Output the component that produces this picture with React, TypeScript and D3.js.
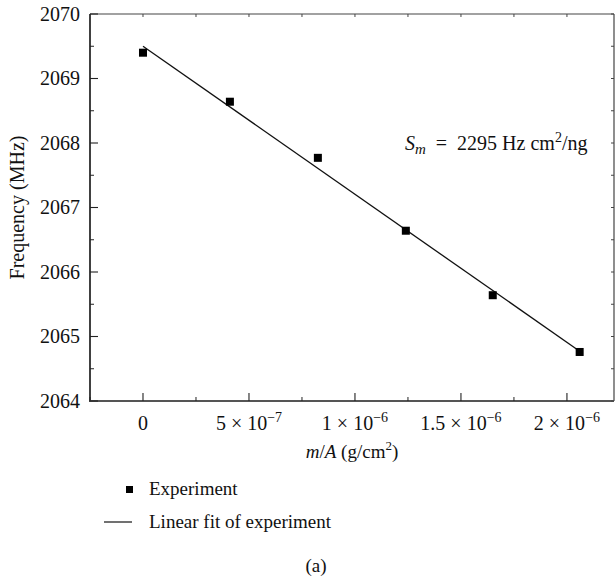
import React from "react";
import * as d3 from "d3";

// Mass loading per area (g/cm^2) and measured resonance frequency (MHz)
const massPerArea = [0, 4.1e-7, 8.25e-7, 1.24e-6, 1.65e-6, 2.06e-6];
const frequencyMHz = [2069.4, 2068.64, 2067.77, 2066.64, 2065.64, 2064.76];

// Linear fit: f = intercept - Sm * (m/A); Sm in Hz cm^2/ng
const fitInterceptMHz = 2069.5;
const sensitivityHzCm2PerNg = 2295;

const xMajorTicks = [0, 5e-7, 1e-6, 1.5e-6, 2e-6];
const xTickMantissa = ["0", "5", "1", "1.5", "2"];
const xTickExponent = ["", "−7", "−6", "−6", "−6"];
const yMajorTicks = [2064, 2065, 2066, 2067, 2068, 2069, 2070];

const W = 616;
const H = 582;
const M = { left: 90, right: 614, top: 14, bottom: 401 };
const FONT = "'Liberation Serif', 'DejaVu Serif', serif";
const FS = 19;
const TICK_FS = 20;
const NBSP = "\u00A0";

export default function App() {
  const x = d3.scaleLinear().domain([-2.5e-7, 2.222e-6]).range([M.left, M.right]);
  const y = d3.scaleLinear().domain([2064, 2070]).range([M.bottom, M.top]);

  const xMinor = d3.range(-2.5e-7, 2.2e-6, 2.5e-7).filter(
    (v) => !xMajorTicks.some((t) => Math.abs(t - v) < 1e-9)
  );
  const yMinor = d3.range(2064.5, 2070, 1);

  // slope in MHz per (g/cm^2): Hz/(ng/cm^2) -> MHz/(g/cm^2)
  const slope = -sensitivityHzCm2PerNg * 1e9 * 1e-6;
  const fitX = [0, d3.max(massPerArea) as number];
  const fitLine = d3
    .line<number>()
    .x((d) => x(d))
    .y((d) => y(fitInterceptMHz + slope * d))(fitX) as string;

  const sq = 8;

  return (
    <svg width={W} height={H} style={{ display: "block", position: "absolute", left: 0, top: 0 }} fontFamily={FONT}>
      <rect width={W} height={H} fill="#fff" />
      {/* frame */}
      <line x1={M.left} x2={M.right} y1={M.top} y2={M.top} stroke="#444" strokeWidth={1.2} />
      <line x1={M.right} x2={M.right} y1={M.top} y2={M.bottom} stroke="#444" strokeWidth={1.2} />
      <line x1={M.left} x2={M.left} y1={M.top} y2={M.bottom + 1} stroke="#111" strokeWidth={1.6} />
      <line x1={M.left} x2={M.right} y1={M.bottom} y2={M.bottom} stroke="#555" strokeWidth={2} />

      {/* x ticks */}
      {xMajorTicks.map((t, i) => (
        <g key={"xm" + i}>
          <line x1={x(t)} x2={x(t)} y1={M.bottom} y2={M.bottom - 8} stroke="#222" strokeWidth={1.1} />
          <line x1={x(t)} x2={x(t)} y1={M.top} y2={M.top + 3} stroke="#444" strokeWidth={1} />
          <text x={x(t)} y={430} textAnchor="middle" fontSize={TICK_FS} fill="#111">
            {xTickExponent[i] ? (
              <>
                {xTickMantissa[i] + " × 10"}
                <tspan fontSize={14} dy={-8}>{xTickExponent[i]}</tspan>
              </>
            ) : (
              xTickMantissa[i]
            )}
          </text>
        </g>
      ))}
      {xMinor.map((t, i) => (
        <g key={"xn" + i}>
          <line x1={x(t)} x2={x(t)} y1={M.bottom} y2={M.bottom - 4} stroke="#222" strokeWidth={1} />
          <line x1={x(t)} x2={x(t)} y1={M.top} y2={M.top + 3} stroke="#444" strokeWidth={1} />
        </g>
      ))}

      {/* y ticks */}
      {yMajorTicks.map((t, i) => (
        <g key={"ym" + i}>
          <line x1={M.left} x2={M.left + 8} y1={y(t)} y2={y(t)} stroke="#222" strokeWidth={1.1} />
          <line x1={M.right} x2={M.right - 3} y1={y(t)} y2={y(t)} stroke="#444" strokeWidth={1} />
          <text x={M.left - 10} y={y(t) + 6.5} textAnchor="end" fontSize={TICK_FS} fill="#111">
            {t}
          </text>
        </g>
      ))}
      {yMinor.map((t, i) => (
        <g key={"yn" + i}>
          <line x1={M.left} x2={M.left + 4} y1={y(t)} y2={y(t)} stroke="#222" strokeWidth={1} />
          <line x1={M.right} x2={M.right - 3} y1={y(t)} y2={y(t)} stroke="#444" strokeWidth={1} />
        </g>
      ))}

      {/* fit line */}
      <path d={fitLine} fill="none" stroke="#111" strokeWidth={1.3} />

      {/* measured points */}
      {massPerArea.map((m, i) => (
        <rect key={"p" + i} x={x(m) - sq / 2} y={y(frequencyMHz[i]) - sq / 2} width={sq} height={sq} fill="#000" />
      ))}

      {/* sensitivity annotation */}
      <text x={405} y={150} fontSize={20} fill="#111">
        <tspan fontStyle="italic">S</tspan>
        <tspan fontStyle="italic" fontSize={15} dy={4}>m</tspan>
        <tspan dy={-4}>{NBSP + NBSP + "=" + NBSP + NBSP + sensitivityHzCm2PerNg + NBSP + "Hz" + NBSP + "cm"}</tspan>
        <tspan fontSize={14} dy={-8}>2</tspan>
        <tspan dy={8}>/ng</tspan>
      </text>

      {/* axis titles */}
      <text x={(M.left + M.right) / 2} y={458} textAnchor="middle" fontSize={FS} fill="#111">
        <tspan fontStyle="italic">m</tspan>
        <tspan>/</tspan>
        <tspan fontStyle="italic">A</tspan>
        <tspan>{" (g/cm"}</tspan>
        <tspan fontSize={13} dy={-8}>2</tspan>
        <tspan dy={8}>)</tspan>
      </text>
      <text
        transform={`translate(24, ${(M.top + M.bottom) / 2}) rotate(-90)`}
        textAnchor="middle"
        fontSize={20}
        fill="#111"
      >
        Frequency (MHz)
      </text>

      {/* legend */}
      <rect x={126} y={486} width={7} height={7} fill="#000" />
      <text x={149} y={495} fontSize={FS} fill="#111">Experiment</text>
      <line x1={104} x2={132} y1={522} y2={522} stroke="#111" strokeWidth={1.2} />
      <text x={149} y={528} fontSize={FS} fill="#111">Linear fit of experiment</text>

      <text x={316} y={572} textAnchor="middle" fontSize={FS} fill="#111">(a)</text>
    </svg>
  );
}
